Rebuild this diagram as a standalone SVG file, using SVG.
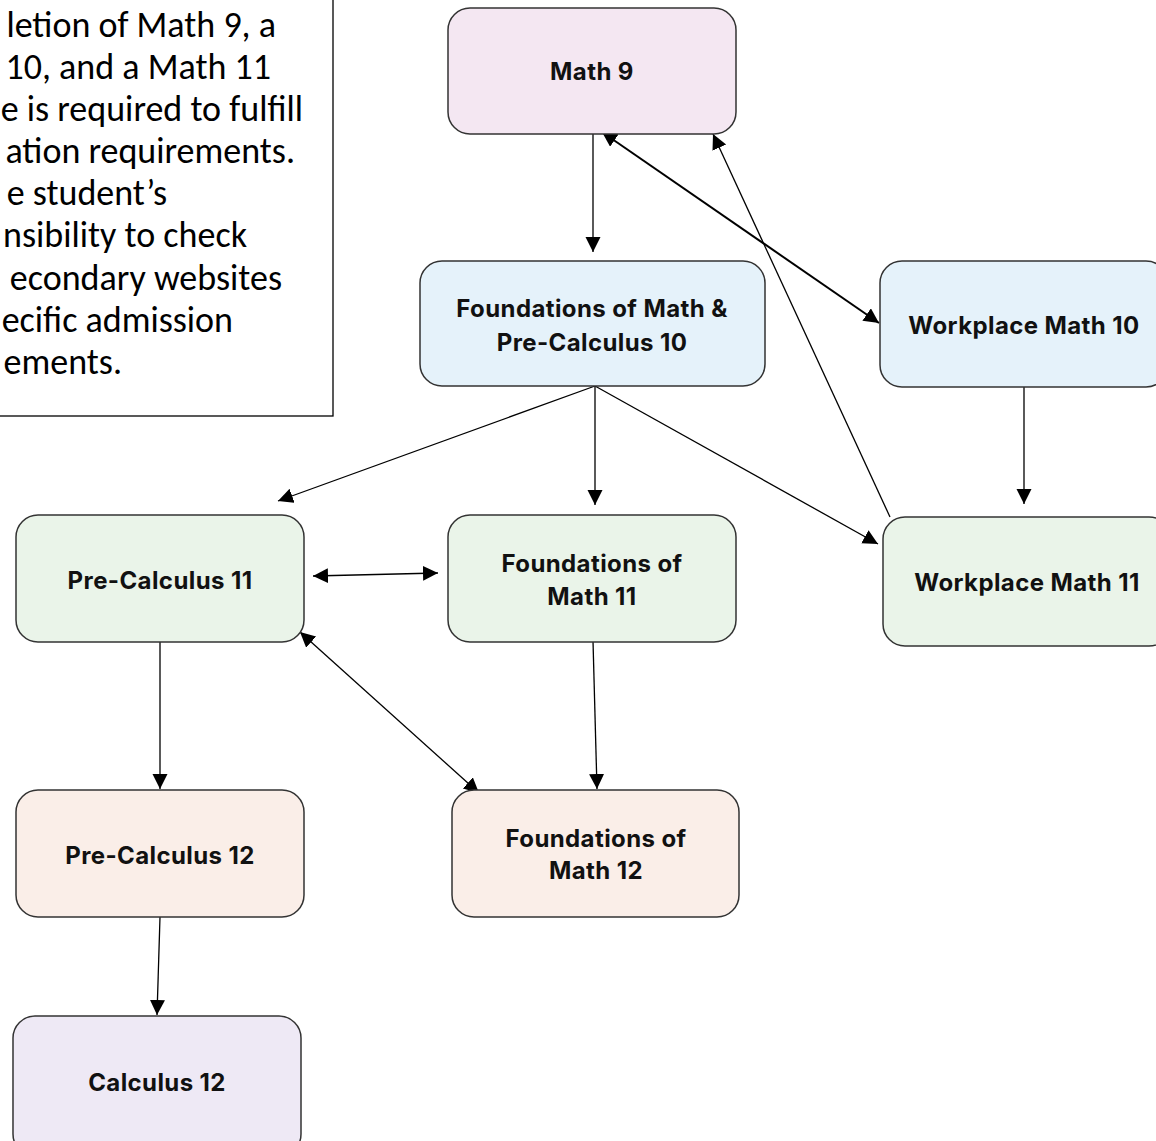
<svg xmlns="http://www.w3.org/2000/svg" width="1156" height="1141" viewBox="0 0 1156 1141">
<style>
.node rect{stroke:#333;stroke-width:1.5}
.lbl{font-family:Inter,"Liberation Sans",sans-serif;font-weight:700;font-size:24px;letter-spacing:0.4px;fill:#111;text-anchor:middle}
.note{font-family:Carlito,Lato,"Liberation Sans",sans-serif;font-size:36px;fill:#000;text-anchor:end}
.c line{stroke:#000;stroke-width:1.3;fill:none}
.c line.thick{stroke-width:2}
.pink{fill:#F4E7F2}.blue{fill:#E5F2FA}.green{fill:#EAF4E9}.peach{fill:#FAEEE8}.lav{fill:#EEE9F5}
</style>
<defs>
<marker id="ah" markerUnits="userSpaceOnUse" markerWidth="16" markerHeight="16" refX="15" refY="7.5" orient="auto-start-reverse">
<path d="M0,0 L15,7.5 L0,15 z" fill="#000"/>
</marker>
</defs>
<rect width="1156" height="1141" fill="#fff"/>
<g id="note">
<rect x="-2" y="-2" width="335" height="418" fill="#fff" stroke="#000" stroke-width="1.3"/>
<text class="note" x="276" y="37">letion of Math 9, a</text>
<text class="note" x="271" y="79">10, and a Math 11</text>
<text class="note" x="303" y="121">e is required to fulfill</text>
<text class="note" x="295" y="163">ation requirements.</text>
<text class="note" x="167" y="205">e student’s</text>
<text class="note" x="247" y="247">nsibility to check</text>
<text class="note" x="282" y="290">econdary websites</text>
<text class="note" x="233" y="332">ecific admission</text>
<text class="note" x="122" y="374">ements.</text>
</g>
<g class="c" id="connectors">
<line x1="593" y1="134" x2="593" y2="252" marker-end="url(#ah)"/>
<line class="thick" x1="602" y1="132" x2="879" y2="323" marker-start="url(#ah)" marker-end="url(#ah)"/>
<line x1="890" y1="517" x2="713" y2="134" marker-end="url(#ah)"/>
<line x1="595" y1="386" x2="278" y2="501" marker-end="url(#ah)"/>
<line x1="595" y1="386" x2="595" y2="505" marker-end="url(#ah)"/>
<line x1="595" y1="386" x2="878" y2="544" marker-end="url(#ah)"/>
<line x1="313" y1="576" x2="438" y2="573" marker-start="url(#ah)" marker-end="url(#ah)"/>
<line x1="300" y1="632" x2="479" y2="793" marker-start="url(#ah)" marker-end="url(#ah)"/>
<line x1="160" y1="641" x2="160" y2="789" marker-end="url(#ah)"/>
<line x1="593" y1="641" x2="597" y2="789" marker-end="url(#ah)"/>
<line x1="1024" y1="387" x2="1024" y2="504" marker-end="url(#ah)"/>
<line x1="160" y1="917" x2="157" y2="1015" marker-end="url(#ah)"/>
</g>
<g class="node" id="math9"><rect class="pink" x="448" y="8" width="288" height="126" rx="22"/><text class="lbl" x="592" y="80">Math 9</text></g>
<g class="node" id="fpc10"><rect class="blue" x="420" y="261" width="345" height="125" rx="22"/><text class="lbl" x="592" y="317">Foundations of Math &amp;</text><text class="lbl" x="592" y="351">Pre-Calculus 10</text></g>
<g class="node" id="wm10"><rect class="blue" x="880" y="261" width="288" height="126" rx="22"/><text class="lbl" x="1024" y="334">Workplace Math 10</text></g>
<g class="node" id="pc11"><rect class="green" x="16" y="515" width="288" height="127" rx="22"/><text class="lbl" x="160" y="589">Pre-Calculus 11</text></g>
<g class="node" id="fm11"><rect class="green" x="448" y="515" width="288" height="127" rx="22"/><text class="lbl" x="592" y="572">Foundations of</text><text class="lbl" x="592" y="605">Math 11</text></g>
<g class="node" id="wm11"><rect class="green" x="883" y="517" width="288" height="129" rx="22"/><text class="lbl" x="1027" y="591">Workplace Math 11</text></g>
<g class="node" id="pc12"><rect class="peach" x="16" y="790" width="288" height="127" rx="22"/><text class="lbl" x="160" y="864">Pre-Calculus 12</text></g>
<g class="node" id="fm12"><rect class="peach" x="452" y="790" width="287" height="127" rx="22"/><text class="lbl" x="596" y="847">Foundations of</text><text class="lbl" x="596" y="879">Math 12</text></g>
<g class="node" id="calc12"><rect class="lav" x="13" y="1016" width="288" height="140" rx="22"/><text class="lbl" x="157" y="1091">Calculus 12</text></g>
</svg>
